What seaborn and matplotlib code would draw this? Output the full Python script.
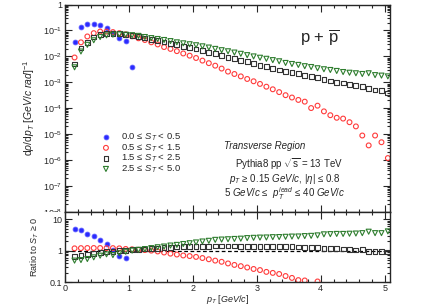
import numpy as np
import matplotlib
matplotlib.use("Agg")
import matplotlib.pyplot as plt
import seaborn as sns
from matplotlib.ticker import LogLocator, NullFormatter, MultipleLocator
from matplotlib.transforms import Bbox, TransformedBbox

# bin centres in pT (GeV/c)
pt = [0.15, 0.25, 0.35, 0.45, 0.55, 0.65, 0.75, 0.85, 0.95, 1.05,
      1.15, 1.25, 1.35, 1.45, 1.55, 1.65, 1.75, 1.85, 1.95, 2.05,
      2.15, 2.25, 2.35, 2.45, 2.55, 2.65, 2.75, 2.85, 2.95, 3.05,
      3.15, 3.25, 3.35, 3.45, 3.55, 3.65, 3.75, 3.85, 3.95, 4.05,
      4.15, 4.25, 4.35, 4.45, 4.55, 4.65, 4.75, 4.85, 4.95, 5.05]

labels = ["0.0 ≤ $S_{T}$ < 0.5", "0.5 ≤ $S_{T}$ < 1.5",
          "1.5 ≤ $S_{T}$ < 2.5", "2.5 ≤ $S_{T}$ < 5.0"]

# spectra dN/dpT per S_T class
spec_st0 = [0.036, 0.135, 0.176, 0.18, 0.158, 0.124, 0.08, 0.05, 0.038, 0.0038]
spec_st1 = [9.1e-3, 3.5e-2, 5.9e-2, 7.9e-2, 9.1e-2, 9.1e-2, 8.7e-2, 7.9e-2, 7.1e-2, 6.0e-2,
            5.0e-2, 4.3e-2, 3.5e-2, 2.9e-2, 2.3e-2, 1.95e-2, 1.6e-2, 1.3e-2, 1.07e-2, 8.7e-3,
            6.9e-3, 5.5e-3, 4.4e-3, 3.4e-3, 2.6e-3, 2.1e-3, 1.7e-3, 1.35e-3, 1.1e-3, 8.7e-4,
            6.8e-4, 5.4e-4, 4.2e-4, 3.2e-4, 2.6e-4, 2.1e-4, 1.8e-4, 1.02e-4, 1.26e-4, 7.6e-5,
            5.4e-5, 4.3e-5, 4.0e-5, 2.9e-5, 2.0e-5, 8.9e-6, 3.7e-6, 8.9e-6, 4.9e-6, 1.2e-6]
spec_st2 = [5.1e-3, 2.1e-2, 3.5e-2, 5.6e-2, 7.2e-2, 7.9e-2, 7.9e-2, 7.6e-2, 7.1e-2, 6.5e-2,
            5.8e-2, 5.1e-2, 4.6e-2, 4.1e-2, 3.6e-2, 3.2e-2, 2.9e-2, 2.5e-2, 2.2e-2, 1.95e-2,
            1.66e-2, 1.45e-2, 1.26e-2, 1.07e-2, 9.3e-3, 8.1e-3, 7.1e-3, 6.2e-3, 5.2e-3, 4.6e-3,
            4.0e-3, 3.5e-3, 3.0e-3, 2.6e-3, 2.4e-3, 2.2e-3, 1.86e-3, 1.66e-3, 1.51e-3, 1.32e-3,
            1.12e-3, 1.02e-3, 9.5e-4, 8.3e-4, 7.8e-4, 7.1e-4, 5.6e-4, 5.1e-4, 4.8e-4, 3.9e-4]
spec_st3 = [3.8e-3, 1.55e-2, 2.8e-2, 4.2e-2, 5.6e-2, 6.5e-2, 6.9e-2, 7.1e-2, 6.9e-2, 6.6e-2,
            6.2e-2, 5.6e-2, 5.1e-2, 4.7e-2, 4.3e-2, 3.9e-2, 3.5e-2, 3.2e-2, 2.95e-2, 2.7e-2,
            2.45e-2, 2.2e-2, 1.95e-2, 1.74e-2, 1.58e-2, 1.41e-2, 1.26e-2, 1.12e-2, 1.0e-2, 8.9e-3,
            8.1e-3, 7.2e-3, 6.5e-3, 5.6e-3, 5.1e-3, 4.7e-3, 4.2e-3, 3.9e-3, 3.5e-3, 3.2e-3,
            3.0e-3, 2.75e-3, 2.5e-3, 2.35e-3, 2.24e-3, 2.1e-3, 2.24e-3, 1.9e-3, 1.82e-3, 1.7e-3]

# ratios to S_T >= 0
nan = np.nan
ratio_st0 = [5.0, 4.4, 3.45, 2.9, 2.2, 1.6, 1.05, 0.67, 0.6, nan]
ratio_st1 = [1.18, 1.2, 1.21, 1.21, 1.21, 1.2, 1.2, 1.18, 1.13, 1.1,
             1.06, 1.04, 1.0, 0.94, 0.87, 0.8, 0.75, 0.7, 0.67, 0.63,
             0.58, 0.53, 0.48, 0.44, 0.39, 0.35, 0.32, 0.29, 0.26, 0.24,
             0.21, 0.195, 0.18, 0.155, 0.135, 0.115, 0.112, nan, 0.104, nan,
             nan, nan, nan, nan, nan, nan, nan, nan, nan, nan]
ratio_st2 = [0.64, 0.69, 0.76, 0.82, 0.89, 0.93, 0.96, 1.0, 1.03, 1.06,
             1.1, 1.13, 1.17, 1.2, 1.24, 1.27, 1.3, 1.32, 1.35, 1.37,
             1.38, 1.39, 1.4, 1.4, 1.4, 1.4, 1.39, 1.38, 1.38, 1.37,
             1.36, 1.35, 1.35, 1.34, 1.32, 1.3, 1.28, 1.25, 1.22, 1.2,
             1.17, 1.15, 1.12, 1.1, 1.05, 1.07, 0.92, 0.95, 0.93, 0.9]
ratio_st3 = [0.48, 0.5, 0.54, 0.61, 0.69, 0.76, 0.72, 0.82, 0.92, 1.0,
             1.06, 1.12, 1.2, 1.28, 1.35, 1.45, 1.52, 1.62, 1.72, 1.82,
             1.95, 2.05, 2.2, 2.25, 2.3, 2.35, 2.4, 2.5, 2.55, 2.6,
             2.62, 2.68, 2.7, 2.75, 2.8, 2.82, 2.9, 2.95, 3.05, 3.3,
             3.35, 3.4, 3.4, 3.45, 3.5, 3.6, 4.0, 3.6, 3.6, 4.1]

sns.set_style("ticks")
plt.rcParams['font.family'] = ['Liberation Sans', 'DejaVu Sans']
plt.rcParams['mathtext.fontset'] = 'custom'
plt.rcParams['mathtext.rm'] = 'Liberation Sans'
plt.rcParams['mathtext.it'] = 'Liberation Sans:italic'
plt.rcParams['mathtext.bf'] = 'Liberation Sans:bold'

fig = plt.figure(figsize=(4.36, 3.05), dpi=100)
ax = fig.add_axes([0.149, 0.305, 0.745, 0.680])
axr = fig.add_axes([0.149, 0.0754, 0.745, 0.2296])

styles = [dict(marker="o", color="#2b2bff", filled=True, s=12),
          dict(marker="o", color="#ff3b3b", filled=False, s=12),
          dict(marker="s", color="#333333", filled=False, s=12),
          dict(marker="v", color="#2e7d2e", filled=False, s=13)]

spectra = [spec_st0, spec_st1, spec_st2, spec_st3]
ratios = [ratio_st0, ratio_st1, ratio_st2, ratio_st3]

for spec, rat, st, lab in zip(spectra, ratios, styles, labels):
    x = pt[:len(spec)]
    if st["filled"]:
        kw = dict(color=st["color"], edgecolor="#5a5aff", linewidth=0.6)
    else:
        kw = dict(facecolor="none", edgecolor=st["color"], linewidth=0.8)
    sns.scatterplot(x=x, y=spec, marker=st["marker"], s=st["s"], ax=ax,
                    label=lab, **kw)
    sns.scatterplot(x=x, y=rat, marker=st["marker"], s=st["s"], ax=axr,
                    legend=False, **kw)

axr.axhline(1.0, color="black", linestyle=(0, (3, 2)), linewidth=0.9, zorder=0)

for a in (ax, axr):
    a.set_xlim(0, 5.08)
    a.set_yscale("log")
    a.xaxis.set_major_locator(MultipleLocator(1))
    a.xaxis.set_minor_locator(MultipleLocator(0.2))
    a.tick_params(which="both", direction="in", top=True, right=True,
                  labelsize=6.5, width=0.8, pad=2)
    a.tick_params(which="major", length=5)
    a.tick_params(which="minor", length=2.5)
    for sp in a.spines.values():
        sp.set_linewidth(1.0)

ax.set_ylim(1e-8, 1)
ax.set_yticks([1, 1e-1, 1e-2, 1e-3, 1e-4, 1e-5, 1e-6, 1e-7, 1e-8])
ax.set_yticklabels(["1", "$10^{-1}$", "$10^{-2}$", "$10^{-3}$", "$10^{-4}$",
                    "$10^{-5}$", "$10^{-6}$", "$10^{-7}$", "$10^{-8}$"])
ax.yaxis.set_minor_locator(LogLocator(base=10, subs=np.arange(2, 10), numticks=20))
ax.yaxis.set_minor_formatter(NullFormatter())
ax.tick_params(labelbottom=False)
ax.set_xlabel("")
ax.set_ylabel(r"d$\rho$/d$p_{T}$ [$GeV/c\ rad$]$^{-1}$", fontsize=7.5, labelpad=4)

# the lowest label is cut by the ratio panel, as in the original canvas
clip = TransformedBbox(Bbox([[0, 0.305], [1, 1]]), fig.transFigure)
for t in ax.get_yticklabels():
    t.set_clip_box(clip)
    t.set_clip_on(True)

axr.set_ylim(0.1, 17)
axr.set_yticks([0.1, 1, 10])
axr.set_yticklabels(["0.1", "1", "10"])
axr.yaxis.set_minor_locator(LogLocator(base=10, subs=np.arange(2, 10), numticks=20))
axr.yaxis.set_minor_formatter(NullFormatter())
axr.tick_params(axis="x", pad=1.5)
axr.set_ylabel(r"Ratio to $S_{T}$ ≥ 0", fontsize=6.5, labelpad=6)
axr.set_xlabel(r"$p_{T}$ [$GeV/c$]", fontsize=6.5, labelpad=0)

ax.legend(loc="upper left", bbox_to_anchor=(0.10, 0.405), frameon=False,
          fontsize=6.8, handletextpad=1.1, labelspacing=-0.1,
          handlelength=1.0, borderaxespad=0)

ax.text(0.785, 0.84, r"p + $\overline{\mathrm{p}}$", transform=ax.transAxes,
        ha="center", va="center", fontsize=12)
ax.text(0.615, 0.317, "Transverse Region", transform=ax.transAxes,
        ha="center", va="center", fontsize=7, style="italic")
ax.text(0.69, 0.23, r"Pythia8 pp $\sqrt{\mathrm{s}}$ = 13 TeV", transform=ax.transAxes,
        ha="center", va="center", fontsize=7)
ax.text(0.677, 0.157, r"$p_{T}$ ≥ 0.15 $GeV/c$, |$\eta$| ≤ 0.8", transform=ax.transAxes,
        ha="center", va="center", fontsize=7)
ax.text(0.677, 0.09, r"5 $GeV/c$ ≤  $p_{T}^{lead}$ ≤ 40 $GeV/c$", transform=ax.transAxes,
        ha="center", va="center", fontsize=7)

fig.savefig("out.png", dpi=100)
